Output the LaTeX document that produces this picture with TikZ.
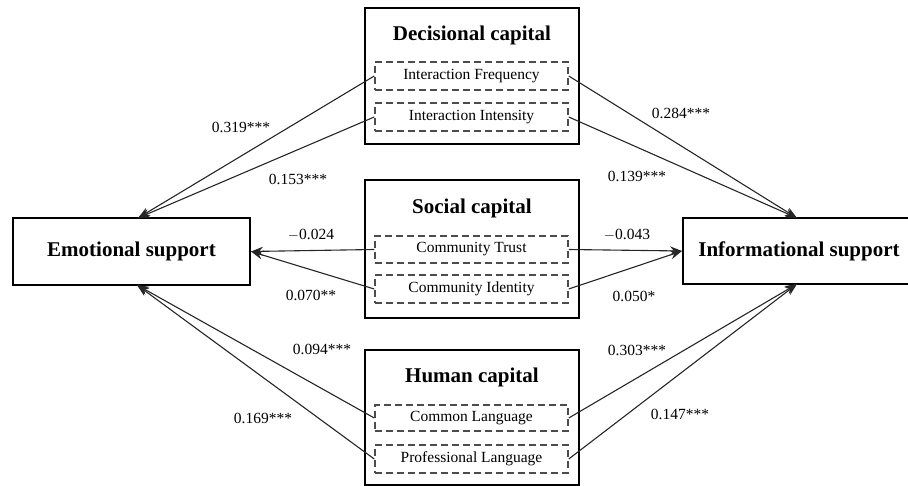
\documentclass[tikz,border=0pt]{standalone}
\usepackage{fontspec}
\setmainfont{Liberation Serif}
\usetikzlibrary{arrows.meta}
\begin{document}
\begin{tikzpicture}[x=1pt,y=-1pt,
  outerbox/.style={draw=black, line width=2pt, minimum width=214pt, inner sep=0pt},
  innerbox/.style={draw=black!70, line width=1.5pt, dash pattern=on 7pt off 4pt,
    minimum width=193pt, inner sep=0pt, font=\fontsize{15.5}{18}\selectfont},
  supbox/.style={draw=black, line width=2pt, inner sep=0pt, font=\fontsize{21}{25}\selectfont\bfseries},
  ttl/.style={inner sep=0pt, font=\fontsize{21}{25}\selectfont\bfseries},
  lbl/.style={inner sep=0pt, font=\fontsize{15.5}{18}\selectfont},
  arr/.style={draw=black!85, line width=1.1pt, -{Stealth[length=12pt,width=9pt]}}]
\useasboundingbox (0,0) rectangle (908,486);

% outer boxes
\node[outerbox, minimum height=136pt] (dec) at (472,76) {};
\node[outerbox, minimum height=138pt] (soc) at (472,249) {};
\node[outerbox, minimum height=135pt] (hum) at (472,417.5) {};
\node[ttl] (dect) at (472,35) {Decisional capital};
\node[ttl] (soct) at (472,208) {Social capital};
\node[ttl] (humt) at (472,377) {Human capital};

% inner dashed boxes
\node[innerbox, minimum height=28pt] (freq) at (471.5,76) {Interaction Frequency};
\node[innerbox, minimum height=28pt] (inte) at (471.5,117) {Interaction Intensity};
\node[innerbox, minimum height=27pt] (trust) at (471.5,249.5) {Community Trust};
\node[innerbox, minimum height=28pt] (iden) at (471.5,289) {Community Identity};
\node[innerbox, minimum height=26pt] (comm) at (471.5,418) {Common Language};
\node[innerbox, minimum height=28pt] (prof) at (471.5,459) {Professional Language};

% outcome boxes
\node[supbox, minimum width=237pt, minimum height=67pt] (emo) at (131.5,251.5) {Emotional support};
\node[supbox, minimum width=232pt, minimum height=66pt] (info) at (799,251) {Informational support};

\coordinate (eT) at (138,218);
\coordinate (eB) at (137,285);
\coordinate (iT) at (797,218);
\coordinate (iB) at (797,284);

% arrows to emotional support
\draw[arr] (freq.west) -- (eT);
\draw[arr] (inte.west) -- (eT);
\draw[arr] (trust.west) -- (emo.east);
\draw[arr] (iden.west) -- (emo.east);
\draw[arr] (comm.west) -- (eB);
\draw[arr] (prof.west) -- (eB);

% arrows to informational support
\draw[arr] (freq.east) -- (iT);
\draw[arr] (inte.east) -- (iT);
\draw[arr] (trust.east) -- (info.west);
\draw[arr] (iden.east) -- (info.west);
\draw[arr] (comm.east) -- (iB);
\draw[arr] (prof.east) -- (iB);

% labels
\node[lbl] (l1) at (241,127) {0.319***};
\node[lbl] (l2) at (298,179) {0.153***};
\node[lbl] (l3) at (681,113) {0.284***};
\node[lbl] (l4) at (637,176) {0.139***};
\node[lbl] (l5) at (311,235) {$-$0.024};
\node[lbl] (l6) at (311,295) {0.070**};
\node[lbl] (l7) at (627,235) {$-$0.043};
\node[lbl] (l8) at (634,296) {0.050*};
\node[lbl] (l9) at (322,349) {0.094***};
\node[lbl] (l10) at (263,418) {0.169***};
\node[lbl] (l11) at (637,350) {0.303***};
\node[lbl] (l12) at (680,414) {0.147***};
\end{tikzpicture}
\end{document}
